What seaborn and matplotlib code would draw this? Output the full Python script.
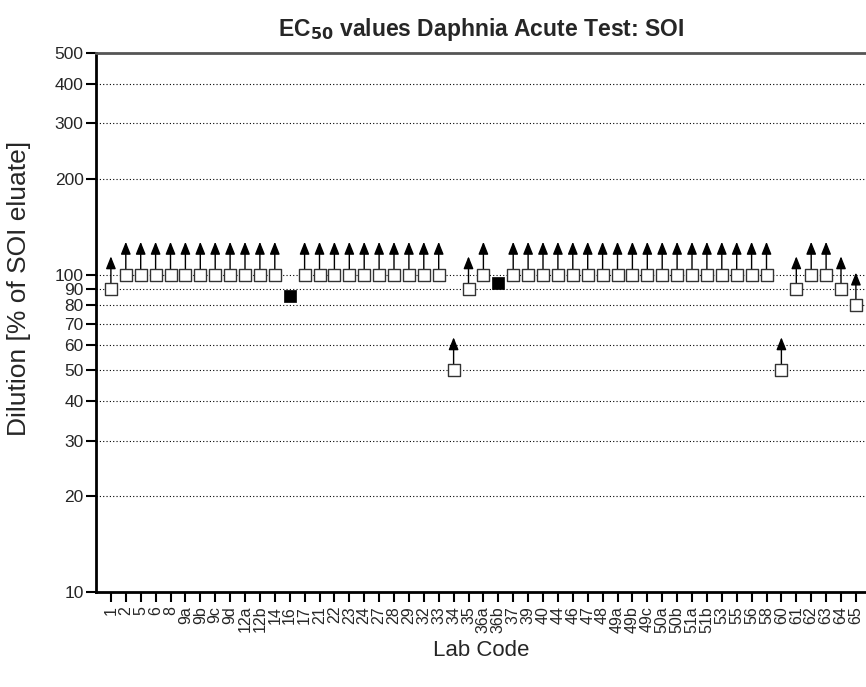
import matplotlib
matplotlib.use("Agg")
import matplotlib.pyplot as plt
import seaborn as sns
import pandas as pd
import numpy as np

labs = ["1", "2", "5", "6", "8", "9a", "9b", "9c", "9d", "12a", "12b", "14", "16", "17",
        "21", "22", "23", "24", "27", "28", "29", "32", "33", "34", "35", "36a", "36b",
        "37", "39", "40", "44", "46", "47", "48", "49a", "49b", "49c", "50a", "50b",
        "51a", "51b", "53", "55", "56", "58", "60", "61", "62", "63", "64", "65"]
values = [90, 100, 100, 100, 100, 100, 100, 100, 100, 100, 100, 100, 86, 100,
          100, 100, 100, 100, 100, 100, 100, 100, 100, 50, 90, 100, 94,
          100, 100, 100, 100, 100, 100, 100, 100, 100, 100, 100, 100,
          100, 100, 100, 100, 100, 100, 50, 90, 100, 100, 90, 80]
# True = "greater than" (open square with arrow), False = exact value (filled square)
greater = [lab not in ("16", "36b") for lab in labs]

yticks = [10, 20, 30, 40, 50, 60, 70, 80, 90, 100, 200, 300, 400, 500]

df = pd.DataFrame({"lab": labs, "value": values, "greater": greater})
df["pos"] = np.arange(1, len(df) + 1)

sns.set_style("white")
plt.rcParams["font.family"] = ["Liberation Sans", "DejaVu Sans"]

fig = plt.figure(figsize=(8.66, 6.87), dpi=100)
ax = fig.add_axes([96 / 866, 1 - 592 / 687, (866 - 96) / 866, (592 - 53) / 687])

ax.set_yscale("log")
ax.set_ylim(10, 500)
ax.set_xlim(0, (866 - 96) / 14.9)

for t in yticks:
    ax.axhline(t, color="black", linestyle=(0, (1, 2)), linewidth=0.8, zorder=1)

opn = df[df["greater"]]
fil = df[~df["greater"]]

# arrows for "greater than" values
for _, r in opn.iterrows():
    ax.annotate("", xy=(r["pos"], r["value"] * 1.27), xytext=(r["pos"], r["value"] * 1.04),
                arrowprops=dict(arrowstyle="-|>,head_length=0.75,head_width=0.3",
                                color="black", lw=1.0, shrinkA=0, shrinkB=0),
                zorder=2)

sns.scatterplot(data=opn, x="pos", y="value", marker="s", s=66, facecolor="white",
                edgecolor="#333333", linewidth=1.0, ax=ax, zorder=3)
sns.scatterplot(data=fil, x="pos", y="value", marker="s", s=72, color="black",
                edgecolor="black", linewidth=0.5, ax=ax, zorder=3)

ax.set_yticks(yticks)
ax.set_yticklabels([str(t) for t in yticks], fontsize=12.5)
ax.yaxis.set_minor_locator(matplotlib.ticker.NullLocator())
ax.set_xticks(df["pos"])
ax.set_xticklabels(df["lab"], rotation=90, fontsize=11.5)

ax.tick_params(axis="both", which="major", direction="out", length=7, width=1.5,
               color="black", bottom=True, left=True)
ax.tick_params(axis="x", pad=3)
ax.tick_params(axis="y", pad=2)

for side in ["left", "bottom"]:
    ax.spines[side].set_color("black")
    ax.spines[side].set_linewidth(2)
ax.spines["top"].set_color("#555555")
ax.spines["top"].set_linewidth(2)
ax.spines["right"].set_visible(False)

ax.set_xlabel("Lab Code", fontsize=16)
ax.xaxis.set_label_coords(0.5, -(651 - 592) / 539, transform=ax.transAxes)
ax.xaxis.label.set_verticalalignment("center")
ax.set_ylabel("Dilution [% of SOI eluate]", fontsize=19)
ax.yaxis.set_label_coords(-(96 - 19) / 770, (592 - 288) / 539, transform=ax.transAxes)
ax.yaxis.label.set_verticalalignment("center")
ax.set_title("EC$_{\\mathbf{50}}$ values Daphnia Acute Test: SOI", fontsize=16.5,
             fontweight="bold", pad=12)

fig.savefig("out.png", dpi=100)
